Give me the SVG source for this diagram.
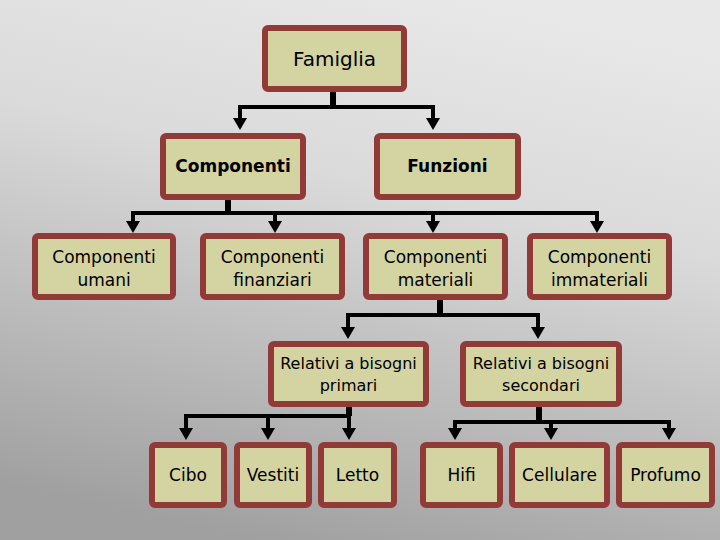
<svg xmlns="http://www.w3.org/2000/svg" width="720" height="540" viewBox="0 0 720 540">
<defs>
<linearGradient id="bg" x1="0.65" y1="0" x2="0.35" y2="1">
<stop offset="0" stop-color="#e8e8e8"/>
<stop offset="0.35" stop-color="#dadada"/>
<stop offset="1" stop-color="#a0a0a0"/>
</linearGradient>
<marker id="ah" markerUnits="userSpaceOnUse" markerWidth="14" markerHeight="14" viewBox="0 -7 12 14" refX="2" refY="0" orient="auto">
<path d="M0,-7 L12,0 L0,7 z" fill="#000"/>
</marker>
<style>
.box{fill:#d4d3a2;stroke:#913a37;stroke-width:6}
.t{font-family:"DejaVu Sans","Liberation Sans",sans-serif;font-size:17px;fill:#000;text-anchor:middle}
.s{font-size:16px}
.l{font-size:20px}
.b{font-weight:bold}
.stub{stroke:#000;stroke-width:6;fill:none}
.ln{stroke:#000;stroke-width:4;fill:none}
.ar{stroke:#000;stroke-width:4;fill:none;marker-end:url(#ah)}
</style>
</defs>
<rect width="720" height="540" fill="url(#bg)"/>
<g id="connectors">
<path class="stub" d="M333,92 V107"/>
<path class="ln" d="M240,107 H433"/>
<path class="ar" d="M240,105 V120"/>
<path class="ar" d="M433,105 V120"/>
<path class="stub" d="M228,200 V213"/>
<path class="ln" d="M133,213 H597"/>
<path class="ar" d="M133,211 V223"/>
<path class="ar" d="M275,211 V223"/>
<path class="ar" d="M433,211 V223"/>
<path class="ar" d="M597,211 V223"/>
<path class="stub" d="M440,300 V315"/>
<path class="ln" d="M348,315 H538"/>
<path class="ar" d="M348,313 V329"/>
<path class="ar" d="M538,313 V329"/>
<path class="stub" d="M349,407 V416"/>
<path class="ln" d="M186,416 H349"/>
<path class="ar" d="M186,414 V430"/>
<path class="ar" d="M268,414 V430"/>
<path class="ar" d="M349,414 V430"/>
<path class="stub" d="M539,407 V422"/>
<path class="ln" d="M455,422 H669"/>
<path class="ar" d="M455,420 V430"/>
<path class="ar" d="M551,420 V430"/>
<path class="ar" d="M669,420 V430"/>
</g>
<g id="famiglia"><rect class="box" x="265" y="28" width="139" height="61" rx="3"/><text class="t l" x="334.5" y="66">Famiglia</text></g>
<g id="componenti"><rect class="box" x="163" y="136" width="140" height="61" rx="3"/><text class="t b" x="233" y="172">Componenti</text></g>
<g id="funzioni"><rect class="box" x="377" y="136" width="141" height="61" rx="3"/><text class="t b" x="447.5" y="172">Funzioni</text></g>
<g id="umani"><rect class="box" x="35" y="236" width="138" height="61" rx="3"/><text class="t" x="104" y="263">Componenti</text><text class="t" x="104" y="286">umani</text></g>
<g id="finanziari"><rect class="box" x="203" y="236" width="139" height="61" rx="3"/><text class="t" x="272.5" y="263">Componenti</text><text class="t" x="272.5" y="286">finanziari</text></g>
<g id="materiali"><rect class="box" x="366" y="236" width="139" height="61" rx="3"/><text class="t" x="435.5" y="263">Componenti</text><text class="t" x="435.5" y="286">materiali</text></g>
<g id="immateriali"><rect class="box" x="530" y="236" width="139" height="61" rx="3"/><text class="t" x="599.5" y="263">Componenti</text><text class="t" x="599.5" y="286">immateriali</text></g>
<g id="primari"><rect class="box" x="271" y="344" width="155" height="60" rx="3"/><text class="t s" x="348.5" y="369">Relativi a bisogni</text><text class="t s" x="348.5" y="391">primari</text></g>
<g id="secondari"><rect class="box" x="463" y="344" width="156" height="60" rx="3"/><text class="t s" x="541" y="369">Relativi a bisogni</text><text class="t s" x="541" y="391">secondari</text></g>
<g id="cibo"><rect class="box" x="152" y="445" width="72" height="60" rx="3"/><text class="t" x="188" y="481">Cibo</text></g>
<g id="vestiti"><rect class="box" x="237" y="445" width="72" height="60" rx="3"/><text class="t" x="273" y="481">Vestiti</text></g>
<g id="letto"><rect class="box" x="321" y="445" width="73" height="60" rx="3"/><text class="t" x="357.5" y="481">Letto</text></g>
<g id="hifi"><rect class="box" x="423" y="445" width="77" height="60" rx="3"/><text class="t" x="461.5" y="481">Hifi</text></g>
<g id="cellulare"><rect class="box" x="512" y="445" width="95" height="60" rx="3"/><text class="t" x="559.5" y="481">Cellulare</text></g>
<g id="profumo"><rect class="box" x="619" y="445" width="93" height="60" rx="3"/><text class="t" x="665.5" y="481">Profumo</text></g>
</svg>
